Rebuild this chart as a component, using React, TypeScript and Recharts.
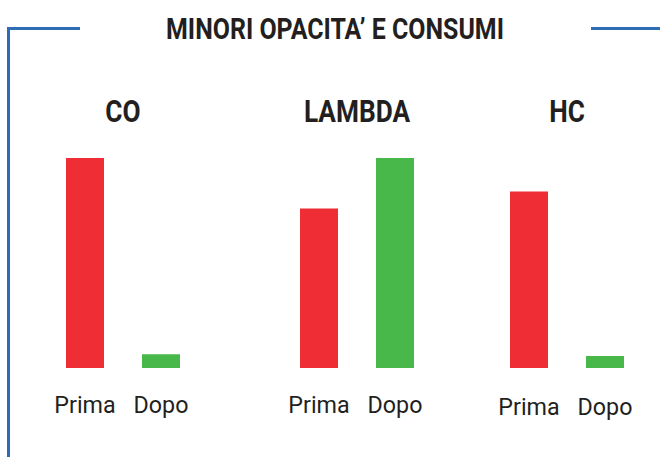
import React from "react";
import { BarChart, Bar, XAxis, YAxis, Cell } from "recharts";

const groups = ["CO", "LAMBDA", "HC"];
const phases = ["Prima", "Dopo"];
const primaValues = [100, 76, 84];
const dopoValues = [6.5, 100, 5.7];

const RED = "#EE2E34";
const GREEN = "#48B84B";
const BLUE = "#2E6DB4";
const INK = "#231F20";

// where each small chart sits on the page (left edge, label drop)
const chartLeft = [47, 281, 491];
const labelDrop = [45, 45, 47];

const TickLabel = (props: any) => {
  const { x, y, payload, dy } = props;
  return (
    <text
      transform={`translate(${x} ${y + dy}) scale(0.97 1)`}
      textAnchor="middle"
      fontFamily="Roboto, sans-serif"
      fontSize={24}
      fill={INK}
    >
      {payload.value}
    </text>
  );
};

function GroupChart({ index }: { index: number }) {
  const data = phases.map((p, i) => ({
    phase: p,
    value: i === 0 ? primaValues[index] : dopoValues[index],
  }));

  return (
    <div style={{ position: "absolute", left: chartLeft[index], top: 150 }}>
      <BarChart
        width={152}
        height={278}
        data={data}
        margin={{ top: 8, right: 0, left: 0, bottom: 0 }}
        barCategoryGap={0}
      >
        <XAxis
          dataKey="phase"
          height={60}
          axisLine={false}
          tickLine={false}
          tickSize={0}
          tickMargin={0}
          interval={0}
          tick={<TickLabel dy={labelDrop[index]} />}
        />
        <YAxis hide domain={[0, 100]} />
        <Bar dataKey="value" barSize={38} isAnimationActive={false}>
          {data.map((d, i) => (
            <Cell key={d.phase} fill={i === 0 ? RED : GREEN} />
          ))}
        </Bar>
      </BarChart>
    </div>
  );
}

const groupCenters = [123, 357, 567];

export default function App() {
  return (
    <div
      style={{
        position: "absolute",
        left: 0,
        top: 0,
        width: 660,
        height: 457,
        background: "#fff",
        overflow: "hidden",
      }}
    >
      <svg
        width={660}
        height={457}
        style={{ position: "absolute", left: 0, top: 0 }}
      >
        {/* frame */}
        <path d="M8.5 457 V28.5 H80" stroke={BLUE} strokeWidth={3} fill="none" />
        <path d="M591 28.5 H660" stroke={BLUE} strokeWidth={3} fill="none" />
        <text
          transform="translate(335 39) scale(0.86 1)"
          textAnchor="middle"
          fontFamily="Roboto, sans-serif"
          fontWeight="bold"
          fontSize={29}
          fill={INK}
        >
          MINORI OPACITA’ E CONSUMI
        </text>
        {groups.map((g, i) => (
          <text
            key={g}
            transform={`translate(${groupCenters[i]} 122) scale(0.82 1)`}
            textAnchor="middle"
            fontFamily="Roboto, sans-serif"
            fontWeight="bold"
            fontSize={32}
            fill={INK}
          >
            {g}
          </text>
        ))}
      </svg>
      {groups.map((g, i) => (
        <GroupChart key={g} index={i} />
      ))}
    </div>
  );
}
